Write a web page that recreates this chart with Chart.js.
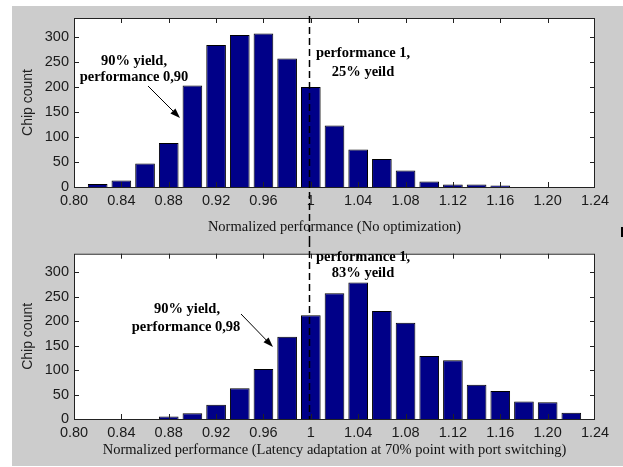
<!DOCTYPE html>
<html lang="en">
<head>
<meta charset="UTF-8">
<title>Chip count histograms</title>
<script src="https://cdn.jsdelivr.net/npm/chart.js@4.4.0/dist/chart.umd.min.js"></script>
<style>
    * { margin: 0; padding: 0; box-sizing: border-box; }
    body { background: #fff; width: 623px; height: 467px; overflow: hidden; position: relative; }
    .figure { position: absolute; left: 12px; top: 6px; width: 611px; height: 460px; background: #cccccc; }
    .panel { position: absolute; left: 0; }
    #topPanel { top: 0; }
    #bottomPanel { top: 240px; }
    .mark { position: absolute; left: 621px; top: 227px; width: 2px; height: 10px; background: #000; }
</style>
</head>
<body>
<div class="figure"></div>
<canvas id="topPanel" class="panel" width="623" height="240"></canvas>
<canvas id="bottomPanel" class="panel" width="623" height="227"></canvas>
<div class="mark"></div>

<script>
    // histogram bins (normalized performance) and chip counts
    const binCenters = [0.82, 0.84, 0.86, 0.88, 0.90, 0.92, 0.94, 0.96, 0.98, 1.00,
                        1.02, 1.04, 1.06, 1.08, 1.10, 1.12, 1.14, 1.16, 1.18, 1.20, 1.22];
    const countsNoOpt = [6, 13, 47, 88, 203, 284, 304, 307, 257, 200,
                         123, 75, 56, 33, 11, 5, 5, 3, 0, 0, 0];
    const countsLatency = [0, 0, 0, 5, 12, 29, 63, 102, 168, 212,
                           257, 279, 221, 197, 129, 120, 70, 57, 36, 34, 13];
    const xTicks = [0.80, 0.84, 0.88, 0.92, 0.96, 1.00, 1.04, 1.08, 1.12, 1.16, 1.20, 1.24];
    const yTicks = [0, 50, 100, 150, 200, 250, 300];
    const cutoff = 1.00;

    const serifBold = 'bold 14.5px "Liberation Serif", "Times New Roman", serif';

    const decorPlugin = {
        id: 'decor',
        beforeDraw(chart) {
            const {ctx, chartArea: a} = chart;
            ctx.save();
            ctx.fillStyle = '#fff';
            ctx.fillRect(a.left, a.top, a.right - a.left, a.bottom - a.top);
            ctx.restore();
        },
        afterDraw(chart, args, opts) {
            const {ctx, chartArea: a, scales} = chart;
            const x = scales.x, y = scales.y;
            ctx.save();
            ctx.strokeStyle = '#222';
            ctx.lineWidth = 1;
            ctx.strokeRect(a.left + 0.5, a.top + 0.5, a.right - a.left - 1, a.bottom - a.top);

            // inside tick marks on all four sides
            ctx.beginPath();
            x.ticks.forEach(t => {
                const px = Math.round(x.getPixelForValue(t.value)) + 0.5;
                if (px <= a.left + 2 || px >= a.right - 2) return;
                ctx.moveTo(px, a.top); ctx.lineTo(px, a.top + 5);
                ctx.moveTo(px, a.bottom); ctx.lineTo(px, a.bottom - 5);
            });
            y.ticks.forEach(t => {
                const py = Math.round(y.getPixelForValue(t.value)) + 0.5;
                if (py >= a.bottom - 2) return;
                ctx.moveTo(a.left, py); ctx.lineTo(a.left + 5, py);
                ctx.moveTo(a.right, py); ctx.lineTo(a.right - 5, py);
            });
            ctx.stroke();

            // dashed cut-off line at performance 1
            const cx = Math.round(x.getPixelForValue(cutoff)) - 1.5;
            ctx.setLineDash([7, 4]);
            ctx.strokeStyle = '#000';
            ctx.lineWidth = 1.5;
            ctx.beginPath();
            ctx.moveTo(cx, opts.dashFrom);
            ctx.lineTo(cx, opts.dashTo === 'area' ? a.bottom : opts.dashTo);
            ctx.stroke();
            ctx.setLineDash([]);

            // annotation texts
            ctx.fillStyle = '#000';
            ctx.font = serifBold;
            ctx.textAlign = 'center';
            ctx.textBaseline = 'middle';
            opts.notes.forEach(n => ctx.fillText(n[0], n[1], n[2]));

            // arrow
            const [x1, y1, x2, y2] = opts.arrow;
            const ang = Math.atan2(y2 - y1, x2 - x1);
            ctx.lineWidth = 1;
            ctx.beginPath();
            ctx.moveTo(x1, y1);
            ctx.lineTo(x2 - 6 * Math.cos(ang), y2 - 6 * Math.sin(ang));
            ctx.stroke();
            ctx.beginPath();
            ctx.moveTo(x2, y2);
            ctx.lineTo(x2 - 10 * Math.cos(ang) + 3.5 * Math.sin(ang), y2 - 10 * Math.sin(ang) - 3.5 * Math.cos(ang));
            ctx.lineTo(x2 - 10 * Math.cos(ang) - 3.5 * Math.sin(ang), y2 - 10 * Math.sin(ang) + 3.5 * Math.cos(ang));
            ctx.closePath();
            ctx.fill();
            ctx.restore();
        }
    };

    function makeChart(id, counts, xTitle, s) {
        return new Chart(document.getElementById(id), {
            type: 'bar',
            data: {
                datasets: [{
                    data: binCenters.map((b, i) => ({x: b, y: counts[i]})),
                    backgroundColor: '#000088',
                    borderColor: '#000000',
                    borderWidth: 1,
                    barPercentage: 0.83,
                    categoryPercentage: 1
                }]
            },
            options: {
                responsive: false,
                animation: false,
                layout: {padding: {left: 0, right: 28, top: s.top, bottom: 0}},
                plugins: {
                    legend: {display: false},
                    tooltip: {enabled: false},
                    decor: s.decor
                },
                scales: {
                    x: {
                        type: 'linear',
                        offset: false,
                        min: 0.80,
                        max: 1.24,
                        afterBuildTicks: sc => { sc.ticks = xTicks.map(v => ({value: v})); },
                        afterFit: sc => { sc.height = s.xHeight; },
                        grid: {display: false, drawTicks: false},
                        border: {display: false},
                        ticks: {
                            autoSkip: false,
                            maxRotation: 0,
                            padding: 5,
                            color: '#1a1a1a',
                            font: {family: '"Liberation Sans", Arial, sans-serif', size: 14.5},
                            callback: v => v === 1 ? '1' : v.toFixed(2)
                        },
                        title: {
                            display: true,
                            text: xTitle,
                            color: '#111',
                            padding: {top: 0, bottom: s.titlePad},
                            font: {family: '"Liberation Serif", "Times New Roman", serif', size: 14.5}
                        }
                    },
                    y: {
                        min: 0,
                        max: 338,
                        afterBuildTicks: sc => { sc.ticks = yTicks.map(v => ({value: v})); },
                        afterFit: sc => { sc.width = 74; },
                        grid: {display: false, drawTicks: false},
                        border: {display: false},
                        ticks: {
                            padding: 5,
                            color: '#1a1a1a',
                            font: {family: '"Liberation Sans", Arial, sans-serif', size: 14.5}
                        },
                        title: {
                            display: true,
                            text: 'Chip count',
                            color: '#222',
                            padding: {top: 19.6, bottom: 0},
                            font: {family: '"Liberation Sans", Arial, sans-serif', size: 14}
                        }
                    }
                }
            },
            plugins: [decorPlugin]
        });
    }

    makeChart('topPanel', countsNoOpt, 'Normalized performance (No optimization)', {
        top: 18, xHeight: 53, titlePad: 4.3,
        decor: {
            dashFrom: 16, dashTo: 240,
            notes: [['90% yield,', 134, 61], ['performance 0,90', 134, 77],
                    ['performance 1,', 363, 53], ['25% yeild', 363, 72]],
            arrow: [148, 86, 180, 118]
        }
    });

    makeChart('bottomPanel', countsLatency,
        'Normalized performance (Latency adaptation at 70% point with port switching)', {
        top: 9, xHeight: 48, titlePad: 8.3,
        decor: {
            dashFrom: 0, dashTo: 'area',
            notes: [['90% yield,', 187, 69], ['performance 0,98', 186, 87],
                    ['performance 1,', 363, 17], ['83% yeild', 363, 33]],
            arrow: [241, 74, 273, 107]
        }
    });
</script>
</body>
</html>
